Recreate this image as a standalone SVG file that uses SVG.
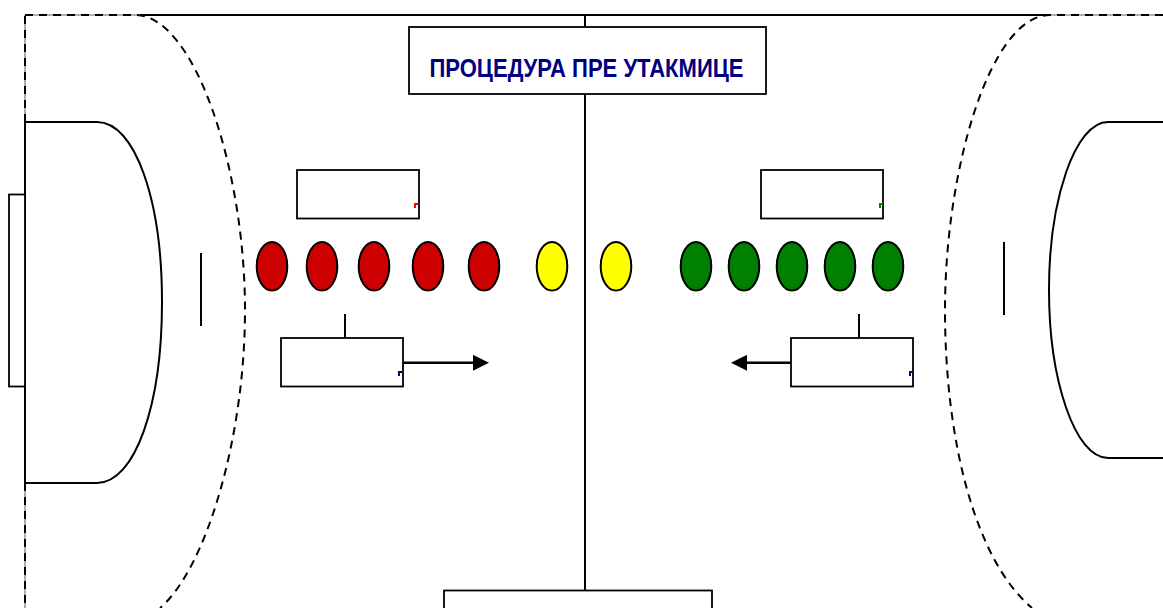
<svg xmlns="http://www.w3.org/2000/svg" width="1163" height="608" viewBox="0 0 1163 608">
<style>
.l{fill:none;stroke:#000;stroke-width:2}
.g{fill:none;stroke:#999;stroke-width:1.6}
.d{fill:none;stroke:#000;stroke-width:2;stroke-dasharray:8 6}
.b{fill:#fff;stroke:#000;stroke-width:1.8}
.red{fill:#c00;stroke:#000;stroke-width:2}
.yel{fill:#ff0;stroke:#000;stroke-width:2}
.grn{fill:#008000;stroke:#000;stroke-width:2}
.a{fill:none;stroke:#000;stroke-width:2.4;marker-end:url(#head)}
.t{font-family:"Liberation Sans",Arial,sans-serif;font-weight:bold;font-size:25px;fill:#000080;text-anchor:middle}
</style>
<defs><marker id="head" markerUnits="userSpaceOnUse" markerWidth="16" markerHeight="16" refX="0" refY="8" orient="auto"><path d="M0 0L16 8L0 16Z" fill="#000"/></marker></defs>
<rect width="1163" height="608" fill="#fff"/>
<g id="court">
<path class="g" d="M25 15H140M1050 15H1163M25 15V122M25 483V608"/>
<path class="l" d="M25 122V483M140 15H1050"/>
<path class="l" d="M585 15V590"/>
<rect class="b" x="9" y="194.500" width="16" height="192"/>
<path class="l" d="M25 122H97C135 122 162 200 162 302C162 405 135 483 97 483H25"/>
<path class="l" d="M1163 122H1108C1075 122 1049 200 1049 290C1049 380 1075 458 1108 458H1163"/>
<path class="l" d="M201 253V326"/>
<path class="l" d="M1004 242V315"/>
<path class="d" d="M25 15H135C195 15 245 170 245 310C245 440 205 570 160 608"/>
<path class="d" d="M25 122V15"/>
<path class="d" d="M25 483V608"/>
<path class="d" d="M1163 15H1050C990 15 945 170 945 310C945 440 975 560 1032 608"/>
</g>
<g id="connectors">
<path class="l" d="M345 314V338"/>
<path class="l" d="M859 314V338"/>
<path class="a" d="M403 362.800H473"/>
<path class="a" d="M791 362.800H747"/>
</g>
<g id="title"><rect class="b" x="409" y="27" width="357" height="67"/><text class="t" x="586.500" y="77" textLength="314" lengthAdjust="spacingAndGlyphs">ПРОЦЕДУРА ПРЕ УТАКМИЦЕ</text></g>
<g id="bottom-box"><rect class="b" x="444" y="590.500" width="268" height="30"/></g>
<g id="box-red"><rect class="b" x="297" y="170" width="122" height="48.500"/><path d="M414 208V203H418V205H416V208Z" fill="#f00"/></g>
<g id="box-green"><rect class="b" x="761" y="170" width="122" height="48.500"/><path d="M879 208V203H883V205H881V208Z" fill="#008000"/></g>
<g id="box-left"><rect class="b" x="281" y="338" width="122" height="48.500"/><path d="M398 376V371H402V373H400V376Z" fill="#000080"/></g>
<g id="box-right"><rect class="b" x="791" y="338" width="122" height="48.500"/><path d="M909 376V371H913V373H911V376Z" fill="#000080"/></g>
<g id="red-players">
<ellipse class="red" cx="272" cy="266.300" rx="15.300" ry="24.300"/>
<ellipse class="red" cx="322" cy="266.300" rx="15.300" ry="24.300"/>
<ellipse class="red" cx="374" cy="266.300" rx="15.300" ry="24.300"/>
<ellipse class="red" cx="428" cy="266.300" rx="15.300" ry="24.300"/>
<ellipse class="red" cx="484" cy="266.300" rx="15.300" ry="24.300"/>
</g>
<g id="referees">
<ellipse class="yel" cx="552" cy="266.300" rx="15.300" ry="24.300"/>
<ellipse class="yel" cx="616" cy="266.300" rx="15.300" ry="24.300"/>
</g>
<g id="green-players">
<ellipse class="grn" cx="696" cy="266.300" rx="15.300" ry="24.300"/>
<ellipse class="grn" cx="744" cy="266.300" rx="15.300" ry="24.300"/>
<ellipse class="grn" cx="792" cy="266.300" rx="15.300" ry="24.300"/>
<ellipse class="grn" cx="840" cy="266.300" rx="15.300" ry="24.300"/>
<ellipse class="grn" cx="888" cy="266.300" rx="15.300" ry="24.300"/>
</g>
</svg>
